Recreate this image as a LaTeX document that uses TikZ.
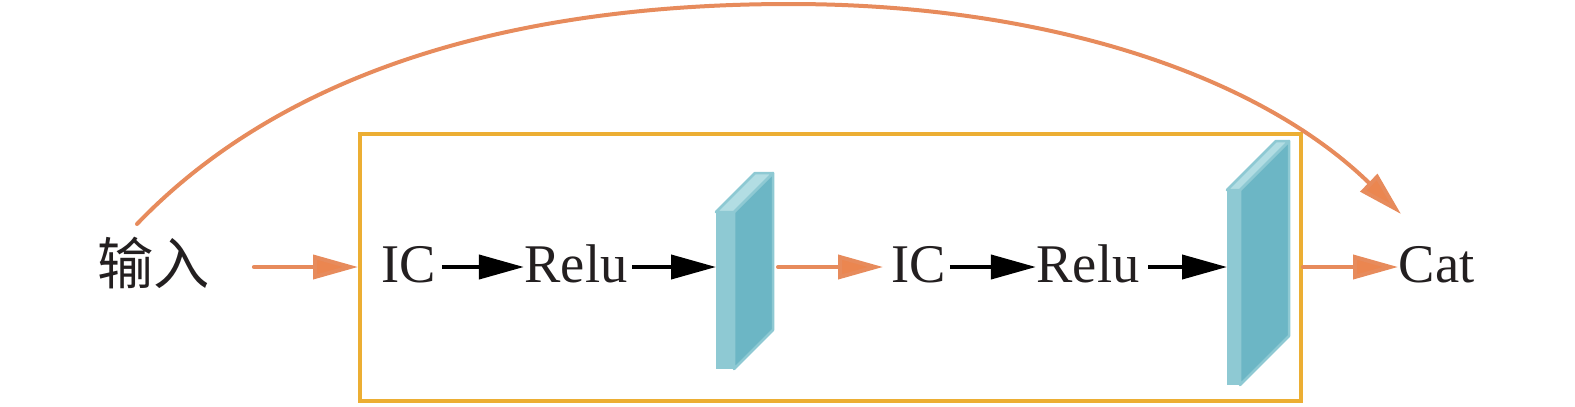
\documentclass[tikz,border=0pt]{standalone}
\usepackage{fontspec}
\setmainfont{Liberation Serif}
\newfontfamily\cjk{Noto Sans CJK SC}
\usetikzlibrary{arrows.meta,positioning,calc}

\definecolor{flowOrange}{HTML}{E78B5C}
\definecolor{headOrange}{HTML}{EB8650}
\definecolor{frameYellow}{HTML}{ECAE33}
\definecolor{plateMid}{HTML}{8EC9D3}
\definecolor{plateDark}{HTML}{6CB6C5}
\definecolor{plateLight}{HTML}{B2DDE3}
\definecolor{textBlack}{HTML}{231F20}

\begin{document}
\begin{tikzpicture}[
            label/.style={
                    inner sep=0pt,
                    text height=0.31cm,
                    text depth=0pt,
                    text=textBlack,
                    font=\fontsize{15.5}{18}\selectfont
                },
            frame/.style={
                    draw=frameYellow,
                    line width=0.04cm,
                    minimum width=9.41cm,
                    minimum height=2.67cm,
                    inner sep=0pt
                },
            plate/.style={
                    inner sep=0pt,
                    outer sep=0pt
                },
            flow/.style={
                    -{Triangle[length=0.45cm,width=0.24cm,fill=headOrange]},
                    draw=flowOrange,
                    line width=0.04cm,
                    line cap=round
                },
            step arrow/.style={
                    -{Triangle[length=0.45cm,width=0.24cm]},
                    draw=black,
                    line width=0.04cm
                },
            face/.style={
                    draw=plateMid,
                    line width=0.025cm,
                    line join=round
                }
        ]
        \useasboundingbox (0,0) rectangle (15.75,4.06);

        % 1. Entrada y marco
        \node[label, font=\fontsize{16}{18}\selectfont\cjk, text height=0.35cm] (inputNode) at (1.54,1.39) {输入};
        \node[frame] (frameBox) at (8.305,1.39) {};

        % 2. Primer bloque
        \node[label, anchor=west] (icA) at (3.81,1.39) {IC};
        \node[label, right=0.87cm of icA] (reluA) {Relu};
        \node[plate, minimum width=0.57cm, minimum height=1.96cm] (plateA) at (7.445,1.35) {};

        % 3. Segundo bloque
        \node[label, anchor=west] (icB) at (8.91,1.39) {IC};
        \node[label, right=0.89cm of icB] (reluB) {Relu};
        \node[plate, minimum width=0.62cm, minimum height=2.44cm] (plateB) at (12.58,1.43) {};

        % 4. Salida
        \node[label, anchor=west] (catNode) at (13.98,1.39) {Cat};

        % 5. Placas
        \foreach \plateName/\plateFront/\plateDepth in {plateA/0.18/0.39,plateB/0.13/0.49} {
                \filldraw[face, fill=plateDark] ($(\plateName.south west)+(\plateFront,0)$)
                -- ($(\plateName.north west)+(\plateFront,-\plateDepth)$)
                -- (\plateName.north east)
                -- ($(\plateName.south east)+(0,\plateDepth)$) -- cycle;
                \filldraw[face, fill=plateLight] ($(\plateName.north west)+(0,-\plateDepth)$)
                -- ($(\plateName.north west)+(\plateDepth,0)$)
                -- (\plateName.north east)
                -- ($(\plateName.north west)+(\plateFront,-\plateDepth)$) -- cycle;
                \fill[plateMid] (\plateName.south west) -- ($(\plateName.north west)+(0,-\plateDepth)$)
                -- ($(\plateName.north west)+(\plateFront,-\plateDepth)$)
                -- ($(\plateName.south west)+(\plateFront,0)$) -- cycle;
            }

        % --- CONEXIONES ---

        % 6. Flechas negras
        \draw[step arrow, shorten <=0.05cm] (icA) -- (reluA);
        \draw[step arrow, shorten <=0.04cm] (reluA) -- (reluA -| plateA.west);
        \draw[step arrow, shorten <=0.03cm] (icB) -- (reluB);
        \draw[step arrow, shorten <=0.08cm] (reluB) -- (reluB -| plateB.west);

        % 7. Flechas naranjas
        \draw[flow, shorten <=0.43cm] (inputNode) -- (frameBox);
        \draw[flow, shorten <=0.05cm, shorten >=0.08cm] (plateA.east |- icB) -- (icB);
        \draw[flow] (frameBox) -- (catNode);

        % 8. Conexion superior
        \coordinate (skipStart) at ($(inputNode)+(-0.17,0.43)$);
        \coordinate (skipTop) at (7.90,4.02);
        \coordinate (skipEnd) at ($(catNode.west)+(0.03,0.53)$);
        \draw[flow] (skipStart) .. controls (2.87,3.38) and (5.20,4.02) .. (skipTop)
        .. controls (10.40,4.02) and (12.55,3.34) .. (skipEnd);

    \end{tikzpicture}
\end{document}
